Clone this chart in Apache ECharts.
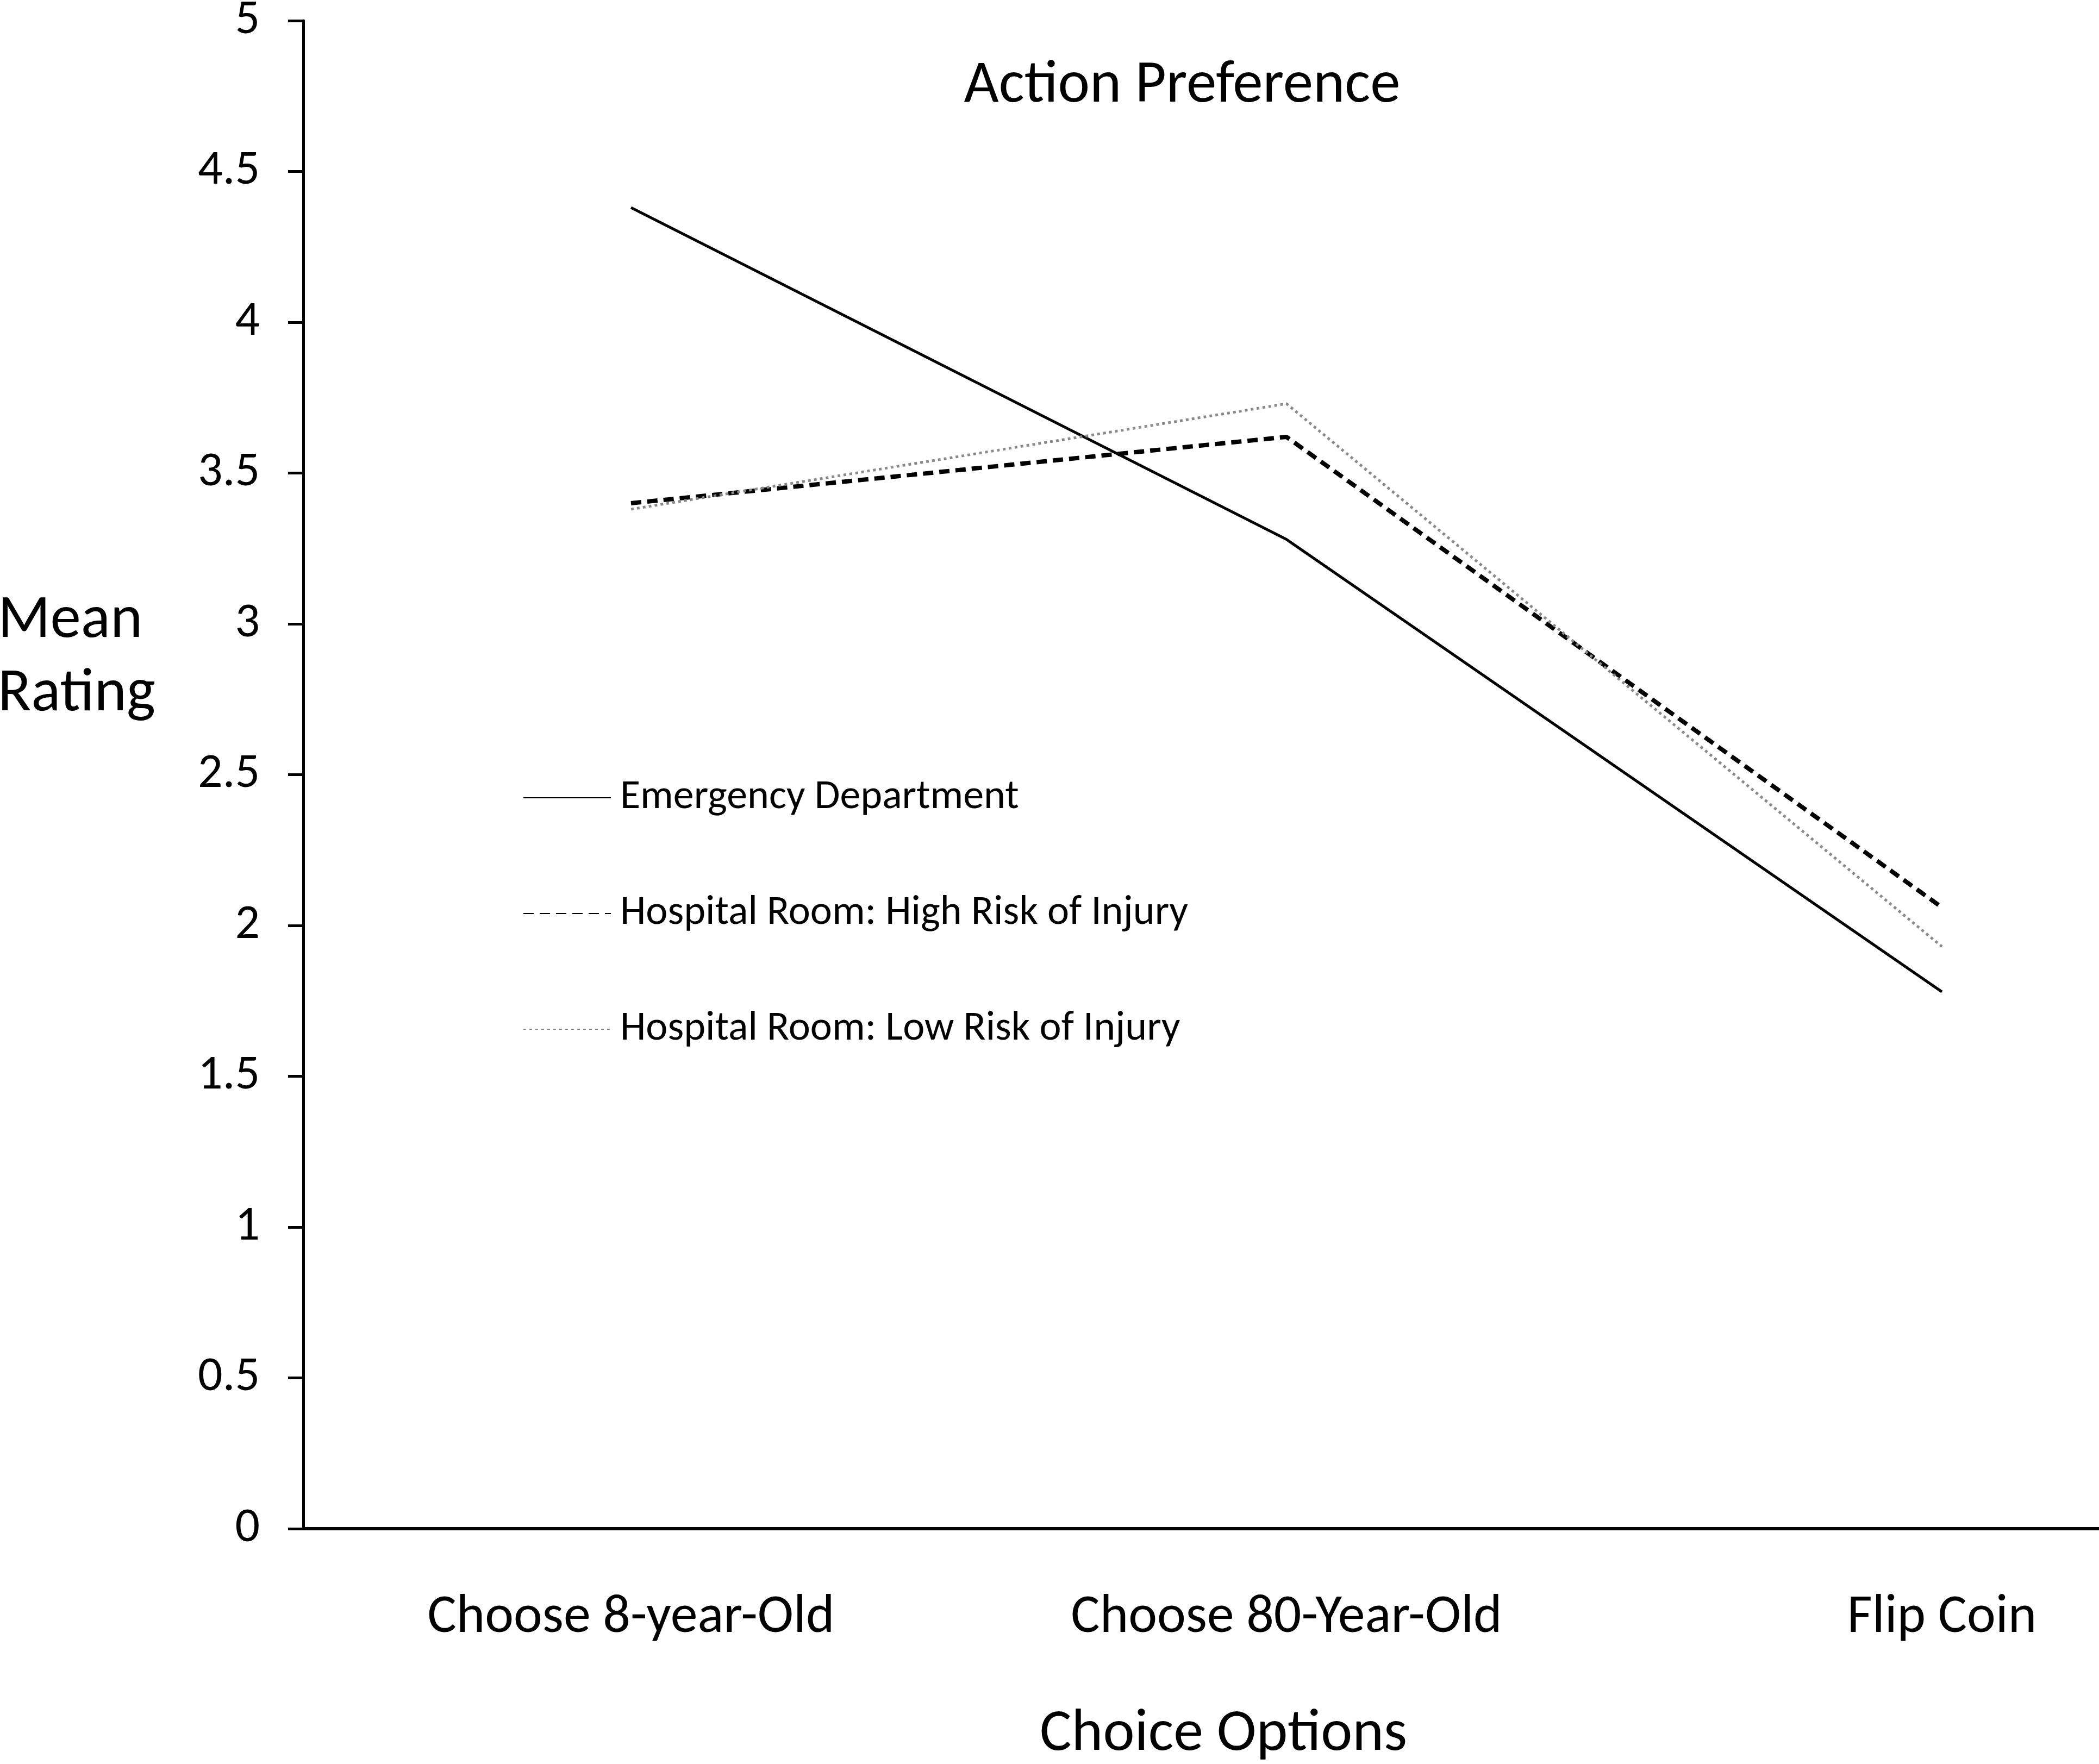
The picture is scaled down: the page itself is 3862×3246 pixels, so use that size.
<!DOCTYPE html>
<html>
<head>
<meta charset="utf-8">
<script src="https://cdn.jsdelivr.net/npm/echarts@6/dist/echarts.min.js"></script>
<style>
  html, body { margin: 0; padding: 0; background: #fff; }
  #chart { width: 3862px; height: 3246px; }
</style>
</head>
<body>
<div id="chart"></div>
<script>
const categories = ["Choose 8-year-Old", "Choose 80-Year-Old", "Flip Coin"];
const emergencyDept = [4.38, 3.28, 1.78];
const highRisk = [3.40, 3.62, 2.06];
const lowRisk = [3.38, 3.73, 1.93];
const seriesNames = [
	"Emergency Department",
	"Hospital Room: High Risk of Injury",
	"Hospital Room: Low Risk of Injury",
];

const font = "Carlito, 'Open Sans', 'Noto Sans', sans-serif";

const chart = echarts.init(document.getElementById("chart"), null, { renderer: "canvas" });

chart.setOption({
	backgroundColor: "#ffffff",
	animation: false,
	title: [
		{
			text: "Action Preference",
			left: 2175,
			top: 93,
			padding: 0,
			textAlign: "center",
			textStyle: { fontFamily: font, fontSize: 111, lineHeight: 133, fontWeight: "normal", color: "#000" },
		},
		{
			text: "Mean\nRating",
			left: -4,
			top: 1076,
			padding: 0,
			textStyle: { fontFamily: font, fontSize: 113, lineHeight: 135, fontWeight: "normal", color: "#000" },
		},
		{
			text: "Choice Options",
			left: 2251,
			top: 3126,
			padding: 0,
			textAlign: "center",
			textStyle: { fontFamily: font, fontSize: 110, lineHeight: 132, fontWeight: "normal", color: "#000" },
		},
	],
	legend: {
		orient: "vertical",
		left: 962,
		top: 1428,
		padding: 0,
		itemWidth: 161,
		itemHeight: 20,
		itemGap: 133,
		data: seriesNames,
		itemStyle: { opacity: 0 },
		textStyle: { fontFamily: font, fontSize: 76, lineHeight: 80, color: "#000", padding: [0, 0, 0, 12] },
	},
	grid: {
		left: 558,
		top: 38,
		bottom: 433,
		right: -314,
		outerBoundsMode: "none",
		containLabel: false,
	},
	xAxis: {
		type: "category",
		data: categories,
		boundaryGap: true,
		axisLine: { lineStyle: { color: "#000", width: 6 } },
		axisTick: { alignWithLabel: true, length: 33, lineStyle: { color: "#000", width: 3 } },
		axisLabel: { fontFamily: font, fontSize: 100, lineHeight: 120, color: "#000", margin: 105 },
		splitLine: { show: false },
	},
	yAxis: {
		type: "value",
		min: 0,
		max: 5,
		interval: 0.5,
		axisLine: { show: true, lineStyle: { color: "#000", width: 5 } },
		axisTick: { show: true, length: 28, lineStyle: { color: "#000", width: 5 } },
		axisLabel: { fontFamily: font, fontSize: 90, color: "#000", margin: 80 },
		splitLine: { show: false },
	},
	series: [
		{
			name: seriesNames[0],
			type: "line",
			data: emergencyDept,
			symbol: "none",
			lineStyle: { color: "#000", width: 5, type: "solid" },
			itemStyle: { color: "#000" },
		},
		{
			name: seriesNames[1],
			type: "line",
			data: highRisk,
			symbol: "none",
			lineStyle: { color: "#000", width: 8, type: [19, 11] },
			itemStyle: { color: "#000" },
		},
		{
			name: seriesNames[2],
			type: "line",
			data: lowRisk,
			symbol: "none",
			lineStyle: { color: "#8a8a8a", width: 5, type: [5, 6] },
			itemStyle: { color: "#8a8a8a" },
		},
	],
});
</script>
</body>
</html>
